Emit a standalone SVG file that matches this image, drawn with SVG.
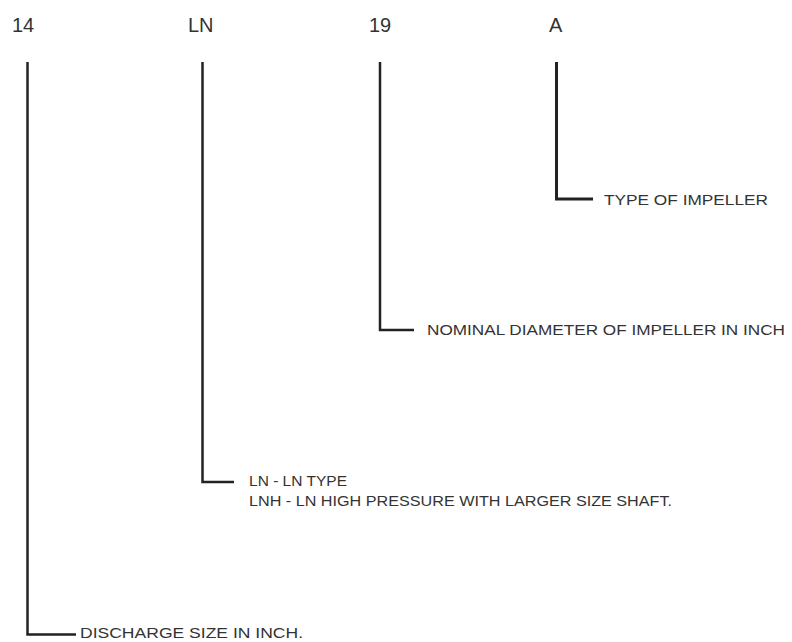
<svg xmlns="http://www.w3.org/2000/svg" width="792" height="642" viewBox="0 0 792 642">
<style>
.top{font-family:"Liberation Sans",Arial,sans-serif;font-size:20px;fill:#333}
.lbl{font-family:"Liberation Sans",Arial,sans-serif;font-size:15px;fill:#333}
.ln{fill:none;stroke:#222;stroke-width:2.5;stroke-linejoin:miter}
</style>
<rect width="792" height="642" fill="#fff"/>
<g id="code">
<text class="top" x="12" y="32">14</text>
<text class="top" x="188" y="32">LN</text>
<text class="top" x="369" y="32">19</text>
<text class="top" x="549" y="32">A</text>
</g>
<g id="connectors">
<polyline class="ln" points="27.5,62 27.5,634.5 76,634.5"/>
<polyline class="ln" points="202.5,62 202.5,482 234,482"/>
<polyline class="ln" points="380,62 380,330 414,330"/>
<polyline class="ln" points="556.5,62 556.5,199 593,199" style="stroke-width:3"/>
</g>
<g id="node-impeller-type">
<text class="lbl" x="604" y="205" textLength="164" lengthAdjust="spacingAndGlyphs">TYPE OF IMPELLER</text>
</g>
<g id="node-diameter">
<text class="lbl" x="427" y="335" textLength="358" lengthAdjust="spacingAndGlyphs">NOMINAL DIAMETER OF IMPELLER IN INCH</text>
</g>
<g id="node-type">
<text class="lbl" x="249" y="486" textLength="98" lengthAdjust="spacingAndGlyphs">LN - LN TYPE</text>
<text class="lbl" x="249" y="506" textLength="423" lengthAdjust="spacingAndGlyphs">LNH - LN HIGH PRESSURE WITH LARGER SIZE SHAFT.</text>
</g>
<g id="node-discharge">
<text class="lbl" x="80" y="638" textLength="223" lengthAdjust="spacingAndGlyphs">DISCHARGE SIZE IN INCH.</text>
</g>
</svg>
